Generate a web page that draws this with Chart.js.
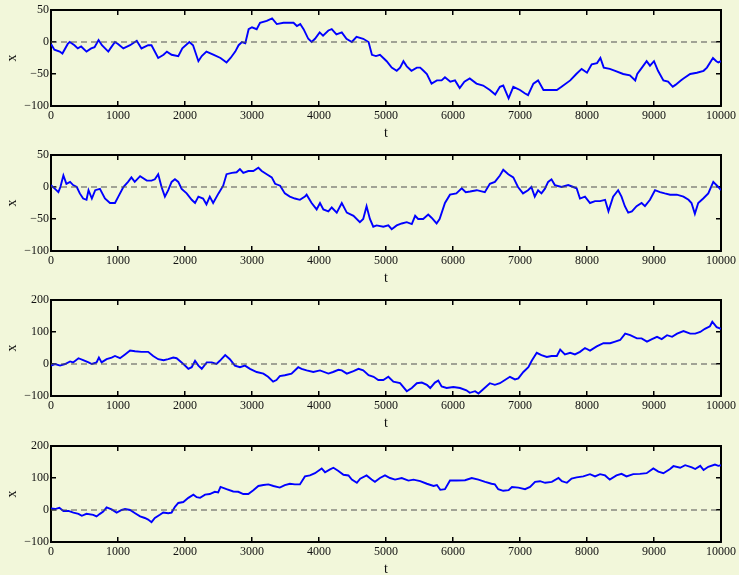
<!DOCTYPE html>
<html><head><meta charset="utf-8">
<script src="https://cdn.jsdelivr.net/npm/chart.js@4/dist/chart.umd.min.js"></script>
<style>
html,body{margin:0;padding:0;width:739px;height:575px;overflow:hidden;background:#F2F7DA;}
canvas{position:absolute;left:0;}
</style></head><body>
<canvas id="c0" width="739" height="145" style="top:0px"></canvas>
<canvas id="c1" width="739" height="145" style="top:145px"></canvas>
<canvas id="c2" width="739" height="145" style="top:290px"></canvas>
<canvas id="c3" width="739" height="145" style="top:436px"></canvas>
<script>
// ---- tick labels ----
const xTicks = [0,1000,2000,3000,4000,5000,6000,7000,8000,9000,10000];
const yTicks50 = [-100,-50,0,50];
const yTicks200 = [-100,0,100,200];
// ---- reference (zero) line ----
const zeroT = [0,10000];
const zeroX = [0,0];

// ---- walk 1 ----
const t1 = [0,50,130,170,250,280,350,400,450,530,
 600,650,710,760,855,900,955,1000,1080,1180,
 1280,1350,1450,1500,1600,1680,1730,1800,1900,1960,
 2065,2120,2200,2250,2320,2430,2530,2620,2680,2750,
 2800,2850,2900,2950,3000,3070,3120,3220,3300,3370,
 3470,3620,3670,3720,3770,3840,3890,3940,4010,4060,
 4140,4190,4260,4340,4410,4490,4560,4660,4740,4790,
 4850,4910,4960,5010,5085,5160,5210,5260,5310,5380,
 5460,5510,5560,5610,5680,5760,5830,5880,5960,6030,
 6100,6170,6250,6350,6450,6550,6630,6700,6750,6830,
 6900,7000,7070,7120,7200,7270,7350,7450,7550,7620,
 7750,7840,7920,8000,8070,8150,8200,8250,8340,8420,
 8540,8640,8720,8750,8820,8890,8940,9000,9060,9140,
 9210,9280,9320,9400,9440,9540,9640,9740,9790,9880,
 9930,9960,10000];
const x1 = [-3,-12,-15,-18,-3,0,-5,-10,-7,-15,
 -10,-8,3,-5,-15,-8,0,-3,-10,-5,
 2,-10,-5,-5,-25,-20,-15,-20,-22,-10,
 0,-5,-30,-22,-15,-20,-25,-32,-25,-15,
 -5,0,-2,20,23,20,30,33,37,28,
 30,30,25,28,20,5,0,5,15,10,
 18,20,12,15,5,0,8,5,0,-20,
 -22,-20,-25,-30,-40,-45,-40,-30,-38,-45,
 -40,-40,-45,-50,-65,-60,-60,-55,-62,-60,
 -72,-62,-57,-65,-68,-75,-82,-70,-68,-88,
 -70,-75,-80,-83,-65,-60,-75,-75,-75,-70,
 -60,-50,-42,-48,-35,-33,-25,-40,-42,-45,
 -50,-52,-60,-50,-40,-30,-37,-30,-45,-60,
 -62,-70,-67,-60,-57,-50,-48,-45,-40,-25,
 -30,-32,-30];

// ---- walk 2 ----
const t2 = [0,60,110,140,185,230,285,330,385,430,
 480,530,560,610,660,730,805,880,955,1005,
 1080,1150,1200,1250,1330,1430,1500,1550,1600,1650,
 1700,1750,1800,1850,1900,1950,2025,2100,2150,2200,
 2270,2320,2370,2420,2500,2570,2620,2700,2770,2820,
 2870,2945,3020,3095,3145,3220,3295,3345,3420,3490,
 3565,3640,3715,3790,3815,3890,3965,4015,4065,4140,
 4190,4265,4340,4415,4515,4610,4660,4710,4760,4810,
 4860,4960,5035,5085,5160,5235,5310,5385,5435,5480,
 5555,5630,5680,5755,5800,5880,5955,6050,6130,6190,
 6255,6355,6475,6550,6625,6700,6750,6825,6900,6970,
 7045,7120,7170,7220,7270,7320,7370,7420,7470,7520,
 7620,7720,7795,7845,7895,7970,8045,8120,8195,8270,
 8320,8390,8465,8515,8565,8615,8670,8740,8815,8865,
 8940,9015,9090,9160,9240,9340,9440,9515,9560,9610,
 9660,9735,9810,9885,9960,10000];
const x2 = [3,-3,-8,0,18,5,8,3,0,-10,
 -18,-20,-5,-18,-5,-3,-18,-25,-25,-15,
 0,8,15,8,17,10,10,12,20,0,
 -15,-5,8,12,8,-3,-10,-20,-25,-15,
 -18,-27,-15,-25,-10,2,20,22,23,28,
 22,25,25,30,25,20,15,5,2,-10,
 -15,-18,-20,-15,-12,-25,-35,-25,-35,-38,
 -32,-40,-25,-40,-45,-55,-50,-30,-50,-62,
 -60,-62,-60,-66,-60,-57,-55,-58,-45,-50,
 -50,-43,-48,-57,-50,-25,-12,-10,-2,-8,
 -7,-5,-8,5,8,18,27,20,15,0,
 -10,-5,0,-15,-5,-10,-3,8,12,3,
 0,3,0,-2,-18,-15,-25,-22,-22,-20,
 -38,-15,-5,-15,-30,-40,-38,-30,-25,-30,
 -20,-5,-8,-10,-12,-12,-15,-20,-25,-42,
 -25,-18,-10,8,0,-5];

// ---- walk 3 ----
const t3 = [0,60,135,210,285,330,410,480,560,610,
 680,715,755,830,905,955,1030,1105,1180,1255,
 1350,1450,1525,1600,1680,1750,1825,1875,1950,2050,
 2100,2150,2200,2250,2325,2400,2470,2520,2600,2670,
 2745,2820,2895,2970,3070,3170,3240,3315,3365,3415,
 3490,3590,3690,3740,3815,3915,4015,4140,4210,4290,
 4340,4415,4515,4590,4660,4740,4815,4885,4960,5035,
 5110,5210,5310,5385,5460,5535,5610,5660,5730,5780,
 5830,5905,6005,6105,6200,6250,6330,6380,6455,6550,
 6625,6700,6775,6850,6925,6975,7050,7125,7175,7250,
 7320,7400,7470,7550,7600,7670,7750,7820,7895,7970,
 8045,8145,8245,8345,8420,8495,8570,8645,8745,8815,
 8895,8970,9045,9115,9195,9270,9345,9440,9540,9615,
 9690,9760,9835,9870,9935,10000];
const x3 = [-5,0,-5,0,8,5,18,12,5,0,
 5,20,5,15,20,25,18,30,42,40,
 38,38,25,15,12,15,20,18,5,-15,
 -10,10,-5,-15,5,5,0,10,28,15,
 -5,-10,-5,-15,-25,-30,-40,-55,-50,-38,
 -35,-30,-10,-15,-20,-25,-20,-30,-25,-18,
 -20,-30,-22,-15,-20,-35,-40,-50,-50,-40,
 -55,-60,-85,-75,-60,-58,-65,-75,-58,-52,
 -70,-75,-72,-75,-82,-90,-85,-92,-78,-60,
 -65,-60,-50,-40,-48,-45,-25,-10,10,35,
 28,22,25,25,45,30,35,30,38,50,
 42,55,65,65,70,75,95,90,80,80,
 70,78,85,78,90,85,95,103,95,95,
 100,110,118,132,115,110];

// ---- walk 4 ----
const t4 = [0,60,125,185,260,335,410,460,530,630,
 680,730,780,830,905,980,1055,1105,1180,1255,
 1330,1400,1450,1500,1550,1625,1675,1750,1800,1850,
 1900,1975,2050,2125,2175,2225,2300,2370,2445,2495,
 2530,2620,2720,2795,2870,2945,3020,3095,3170,3245,
 3320,3415,3490,3565,3640,3715,3790,3865,3940,4040,
 4090,4165,4215,4290,4365,4440,4490,4565,4615,4710,
 4785,4835,4910,4985,5060,5135,5235,5335,5410,5510,
 5610,5710,5760,5810,5880,5955,6055,6180,6280,6380,
 6480,6575,6625,6675,6750,6830,6880,6975,7075,7150,
 7225,7300,7375,7475,7575,7625,7700,7770,7845,7945,
 8045,8120,8195,8270,8340,8440,8515,8590,8690,8790,
 8890,8990,9065,9140,9240,9290,9390,9465,9565,9615,
 9690,9740,9810,9910,9960,10000];
const x4 = [5,3,7,-3,-3,-8,-12,-18,-12,-15,
 -20,-12,-5,8,2,-8,0,3,0,-10,
 -20,-25,-30,-38,-25,-15,-8,-10,-8,10,
 22,25,38,48,40,38,48,50,57,55,
 72,65,58,57,50,50,62,75,78,80,
 75,70,78,82,80,80,105,108,115,130,
 118,127,132,122,110,108,95,85,98,108,
 95,88,100,108,100,95,100,92,95,90,
 82,75,78,63,65,92,92,93,100,95,
 88,82,80,65,60,62,72,70,65,72,
 88,90,85,88,100,90,85,98,102,105,
 112,105,112,108,95,108,113,105,112,113,
 115,130,120,115,128,137,132,140,133,128,
 138,125,135,142,138,140];

const panels = [
  {id:'c0', t:t1, x:x1, yTicks:yTicks50},
  {id:'c1', t:t2, x:x2, yTicks:yTicks50},
  {id:'c2', t:t3, x:x3, yTicks:yTicks200},
  {id:'c3', t:t4, x:x4, yTicks:yTicks200}
];

const FONT = "'Liberation Serif','Times New Roman',serif";
const TXT = '#111111';
function tickSetter(arr){ return function(scale){ scale.ticks = arr.map(v => ({value:v})); }; }
function fmt(v){ return String(v).replace('-', '\u2212'); }
function fitter(w, h){
  return function(s){
    if (w !== null) s.width = w;
    if (h !== null) s.height = h;
    s.paddingLeft = 0; s.paddingRight = 0; s.paddingTop = 0; s.paddingBottom = 0;
  };
}

panels.forEach(p => {
  const yMin = p.yTicks[0], yMax = p.yTicks[p.yTicks.length-1];
  const grid = {drawOnChartArea:false, drawTicks:true, tickLength:-5, color:'#000', lineWidth:1.5};
  const border = {display:true, color:'#000', width:2};
  new Chart(document.getElementById(p.id), {
    type:'line',
    data:{datasets:[
      {data: zeroT.map((t,i)=>({x:t, y:zeroX[i]})), borderColor:'#505050', borderWidth:1.2, borderDash:[6,4], pointRadius:0, tension:0},
      {data: p.t.map((t,i)=>({x:t, y:p.x[i]})), borderColor:'#0000FF', borderWidth:1.9, pointRadius:0, tension:0}
    ]},
    options:{
      responsive:false, animation:false, devicePixelRatio:1,
      layout:{padding:{top:10, left:0, right:18, bottom:3}},
      plugins:{legend:{display:false}, tooltip:{enabled:false}},
      scales:{
        x:{type:'linear', position:'bottom', min:0, max:10000,
           afterBuildTicks:tickSetter(xTicks), afterFit:fitter(null, 36),
           ticks:{font:{family:FONT, size:12}, color:TXT, padding:8, maxRotation:0, autoSkip:false, callback:v=>fmt(v)},
           grid:grid, border:border,
           title:{display:true, text:'t', font:{family:FONT, size:14}, color:TXT, padding:{top:0,bottom:0}}},
        xTop:{type:'linear', position:'top', min:0, max:10000,
           afterBuildTicks:tickSetter(xTicks), afterFit:fitter(null, 0),
           ticks:{display:false}, grid:grid, border:border},
        y:{type:'linear', position:'left', min:yMin, max:yMax,
           afterBuildTicks:tickSetter(p.yTicks), afterFit:fitter(51, null),
           ticks:{font:{family:FONT, size:12}, color:TXT, padding:7, callback:v=>fmt(v)},
           grid:grid, border:border,
           title:{display:true, text:'x', font:{family:FONT, size:14}, color:TXT, padding:{top:4,bottom:0}}},
        yRight:{type:'linear', position:'right', min:yMin, max:yMax,
           afterBuildTicks:tickSetter(p.yTicks), afterFit:fitter(0, null),
           ticks:{display:false}, grid:grid, border:border}
      }
    }
  });
});
</script>
</body></html>
